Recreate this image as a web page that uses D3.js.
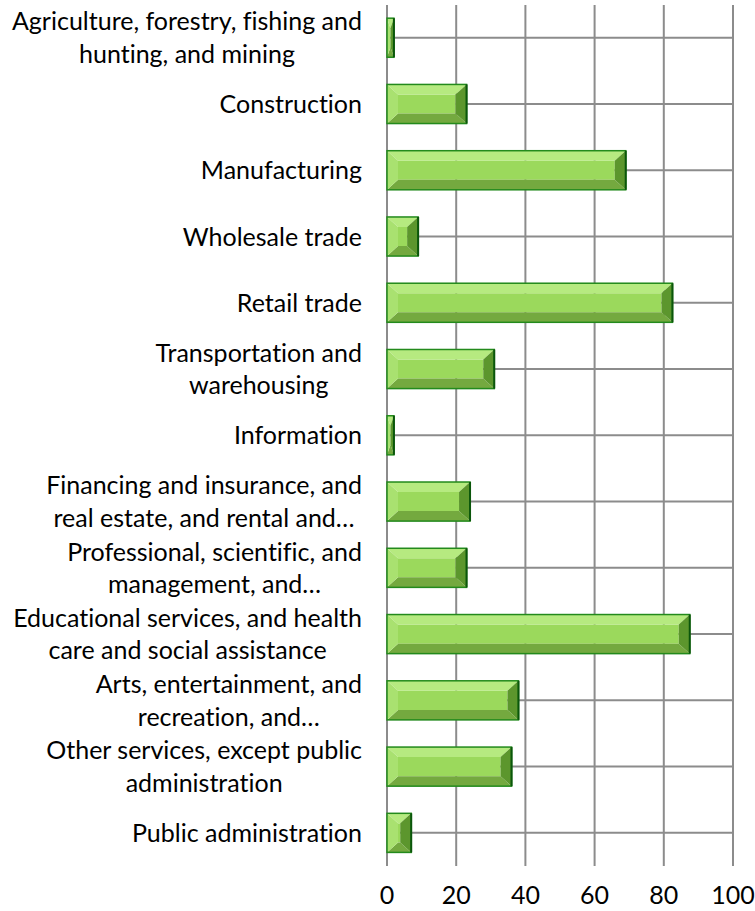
<!DOCTYPE html>
<html lang="en">
  <head>
    <meta charset="UTF-8" />
    <title>industry bars</title>
    <script src="https://cdn.jsdelivr.net/npm/d3@7"></script>
    <style>
      body { margin: 0; background: #fff; }
      text { font-family: Lato, "Open Sans", sans-serif; fill: #000; font-variant-ligatures: none; }
    </style>
  </head>
  <body>
    <svg width="755" height="911"></svg>
  </body>

  <script>
    // categories as they are printed (line breaks where the label wraps)
    var categories = [
      'Agriculture, forestry, fishing and\nhunting, and mining',
      'Construction',
      'Manufacturing',
      'Wholesale trade',
      'Retail trade',
      'Transportation and\nwarehousing',
      'Information',
      'Financing and insurance, and\nreal estate, and rental and\u2026',
      'Professional, scientific, and\nmanagement, and\u2026',
      'Educational services, and health\ncare and social assistance',
      'Arts, entertainment, and\nrecreation, and\u2026',
      'Other services, except public\nadministration',
      'Public administration'
    ];
    var values = [2, 23, 69, 9, 82.5, 31, 2, 24, 23, 87.5, 38, 36, 7];
    var ticks = [0, 20, 40, 60, 80, 100];

    var svg = d3.select('svg');
    var labelRight = 362; // right edge of category labels
    var fontSize = 25;
    var lineGap = 32.5;

    // x: value scale
    var x = d3.scaleLinear().domain([0, 100]).range([387, 733]);
    // y: category bands
    var y = d3.scaleBand()
      .domain(d3.range(categories.length))
      .range([4.6, 866])
      .paddingInner(0.41)
      .paddingOuter(0.205);
    var mid = function (i) { return y(i) + y.bandwidth() / 2; };

    var grid = svg.append('g').attr('stroke', '#8c8c8c').attr('stroke-width', 2);
    // vertical gridlines (run down into tick marks)
    grid.selectAll('line.v').data(ticks).enter().append('line')
      .attr('class', 'v')
      .attr('x1', function (d) { return x(d); })
      .attr('x2', function (d) { return x(d); })
      .attr('y1', 5)
      .attr('y2', 866);
    // horizontal lines through each category centre
    grid.selectAll('line.h').data(categories).enter().append('line')
      .attr('class', 'h')
      .attr('x1', x(0))
      .attr('x2', x(100))
      .attr('y1', function (d, i) { return mid(i); })
      .attr('y2', function (d, i) { return mid(i); });

    // bevelled bars
    var bars = svg.selectAll('g.bar').data(values).enter().append('g').attr('class', 'bar');
    bars.each(function (d, i) {
      var g = d3.select(this);
      var x0 = x(0), x1 = x(d), y0 = y(i), y1 = y(i) + y.bandwidth();
      var bx = Math.min(11, (x1 - x0) / 2), by = Math.min(10, (y1 - y0) / 2);
      var ix0 = x0 + bx, ix1 = x1 - bx, iy0 = y0 + by, iy1 = y1 - by;
      var faces = [
        { c: '#9bd95c', p: [[ix0, iy0], [ix1, iy0], [ix1, iy1], [ix0, iy1]] },
        { c: '#b6ea80', p: [[x0, y0], [x1, y0], [ix1, iy0], [ix0, iy0]] },
        { c: '#74a93f', p: [[x0, y1], [x1, y1], [ix1, iy1], [ix0, iy1]] },
        { c: '#a9e170', p: [[x0, y0], [ix0, iy0], [ix0, iy1], [x0, y1]] },
        { c: '#5c962d', p: [[x1, y0], [ix1, iy0], [ix1, iy1], [x1, y1]] }
      ];
      g.selectAll('polygon').data(faces).enter().append('polygon')
        .attr('points', function (f) { return f.p.join(' '); })
        .attr('fill', function (f) { return f.c; });
      g.append('rect')
        .attr('x', x0).attr('y', y0)
        .attr('width', x1 - x0).attr('height', y1 - y0)
        .attr('fill', 'none')
        .attr('stroke', '#238a1c')
        .attr('stroke-width', 1.5);
      g.append('line')
        .attr('x1', x1).attr('x2', x1).attr('y1', y0).attr('y2', y1)
        .attr('stroke', '#0b560b').attr('stroke-width', 2);
    });

    // category labels: block right-aligned, lines centred within block
    var labels = svg.selectAll('g.lab').data(categories).enter().append('g').attr('class', 'lab');
    labels.each(function (d, i) {
      var g = d3.select(this);
      var lines = d.split('\n');
      var t = g.selectAll('text').data(lines).enter().append('text')
        .attr('font-size', fontSize)
        .attr('text-anchor', 'middle')
        .attr('y', function (l, k) { return mid(i) + (k - (lines.length - 1) / 2) * lineGap; })
        .attr('dy', '0.36em')
        .text(function (l) { return l; });
      var w = 0;
      t.each(function () { w = Math.max(w, this.getComputedTextLength()); });
      t.attr('x', labelRight - w / 2);
    });

    // value axis labels
    svg.selectAll('text.tick').data(ticks).enter().append('text')
      .attr('class', 'tick')
      .attr('font-size', fontSize)
      .attr('text-anchor', 'middle')
      .attr('x', function (d) { return x(d); })
      .attr('y', 904)
      .text(function (d) { return d; });
  </script>
</html>
